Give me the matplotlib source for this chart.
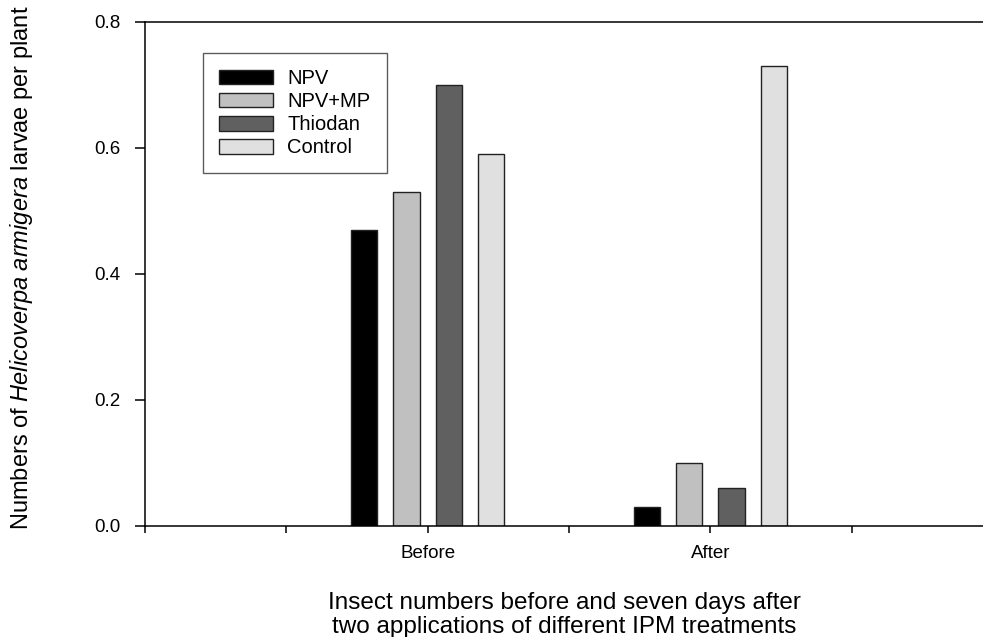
import numpy as np
import matplotlib
matplotlib.use('Agg')
import matplotlib.pyplot as plt

plt.rcParams['font.family'] = 'Liberation Sans'
plt.rcParams['mathtext.fontset'] = 'custom'
plt.rcParams['mathtext.rm'] = 'Liberation Sans'
plt.rcParams['mathtext.it'] = 'Liberation Sans:italic'

# data
periods = ['Before', 'After']
period_pos = [2, 4]
treatments = ['NPV', 'NPV+MP', 'Thiodan', 'Control']
npv = [0.47, 0.03]
npv_mp = [0.53, 0.10]
thiodan = [0.70, 0.06]
control = [0.59, 0.73]
series = [npv, npv_mp, thiodan, control]
colors = ['#000000', '#c0c0c0', '#606060', '#e0e0e0']
offsets = [-0.45, -0.15, 0.15, 0.45]

fig = plt.figure(figsize=(9.83, 6.37), dpi=100)
ax = fig.add_axes([145/983, 111/637, 1 - 145/983, 504/637])

for vals, col, off, name in zip(series, colors, offsets, treatments):
    ax.bar(np.array(period_pos) + off, vals, width=0.185, color=col,
           edgecolor='#222222', linewidth=1.0, label=name)

ax.set_xlim(0, 5.93)
ax.set_ylim(0, 0.8)
ax.set_xticks([0, 1, 2, 3, 4, 5])
ax.set_xticklabels(['', '', 'Before', '', 'After', ''])
ax.set_yticks([0, 0.2, 0.4, 0.6, 0.8])
ax.set_yticklabels(['0.0', '0.2', '0.4', '0.6', '0.8'])
ax.tick_params(axis='y', direction='out', length=7.5, width=1.1, labelsize=13.5, pad=10)
ax.tick_params(axis='x', direction='out', length=5, width=1.1, labelsize=13.5, pad=9)
for s in ['left', 'bottom', 'top']:
    ax.spines[s].set_linewidth(1.1)
ax.spines['right'].set_visible(False)

ax.set_xlabel('Insect numbers before and seven days after\ntwo applications of different IPM treatments',
              fontsize=17.5, labelpad=21, linespacing=1.12)
ax.set_ylabel(r'Numbers of $\it{Helicoverpa\ armigera}$ larvae per plant', fontsize=17)
ax.yaxis.set_label_coords(-0.131, 0.512)

leg = ax.legend(loc='upper left', bbox_to_anchor=(0.069, 0.9385), borderaxespad=0,
                fontsize=14.5, handlelength=2.7, handleheight=0.75, handletextpad=0.7,
                labelspacing=0.2, borderpad=0.8, fancybox=False, frameon=True)
leg.get_frame().set_edgecolor('#333333')
leg.get_frame().set_linewidth(1.0)

fig.savefig('out.png', dpi=100)
